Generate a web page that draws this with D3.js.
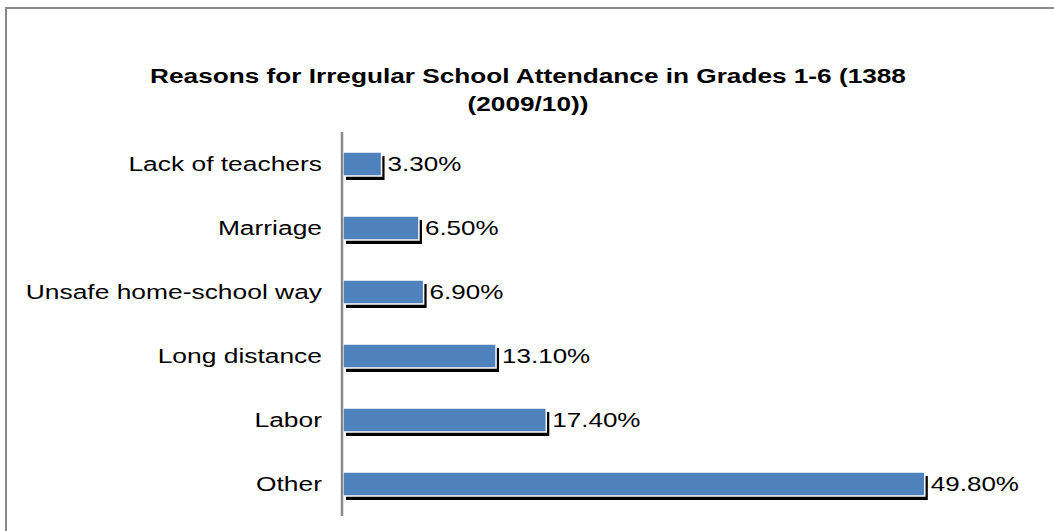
<!DOCTYPE html>
<html><head><meta charset="utf-8">
<script src="https://cdn.jsdelivr.net/npm/d3@7"></script>
<style>body{margin:0;background:#fff}svg{display:block}</style>
</head><body>
<svg id="c" width="1054" height="531"></svg>
<script>
const categories = ["Lack of teachers","Marriage","Unsafe home-school way","Long distance","Labor","Other"];
const values = [3.3, 6.5, 6.9, 13.1, 17.4, 49.8];
const titleLines = ["Reasons for Irregular School Attendance in Grades 1-6 (1388","(2009/10))"];

const FONT = "Liberation Sans, Arial, sans-serif";
const SX = 1.32;
const svg = d3.select("#c");
svg.append("rect").attr("x",6).attr("y",8).attr("width",1100).attr("height",600)
  .attr("fill","#fff").attr("stroke","#888").attr("stroke-width",2);

svg.selectAll("text.title").data(titleLines).join("text").attr("class","title")
  .attr("transform",(d,i)=>`translate(528,${83+i*28}) scale(1.31,1)`).attr("text-anchor","middle")
  .attr("font-family",FONT).attr("font-weight","bold")
  .attr("font-size",20).attr("fill","#000").text(d=>d);

const x = d3.scaleLinear().domain([0,60]).range([343,1044]);
const y = d3.scaleBand().domain(categories).range([132,516]);
const bh = 24;

const g = svg.append("g");
const rows = g.selectAll("g.row").data(categories).join("g").attr("class","row");
rows.append("rect").attr("x",x(0)+3).attr("y",(d)=>y(d)+y.bandwidth()/2-bh/2+4)
  .attr("width",(d,i)=>x(values[i])-x(0)).attr("height",bh).attr("fill","#000");
rows.append("rect").attr("x",x(0)).attr("y",(d)=>y(d)+y.bandwidth()/2-bh/2)
  .attr("width",(d,i)=>x(values[i])-x(0)).attr("height",bh)
  .attr("fill","#4F81BD").attr("stroke","#fff").attr("stroke-width",1.5);
rows.append("text")
  .attr("transform",(d,i)=>`translate(${x(values[i])+6},${y(d)+y.bandwidth()/2+7}) scale(1.3,1)`)
  .attr("font-family",FONT).attr("font-size",20)
  .attr("fill","#000").text((d,i)=>values[i].toFixed(2)+"%");

const ax = svg.append("g").attr("transform",`translate(${x(0)-1},0)`)
  .call(d3.axisLeft(y).tickSize(0).tickPadding(20));
ax.select(".domain").attr("stroke","#888").attr("stroke-width",2.5).attr("d",`M0,${132}V${516}`);
ax.selectAll(".tick text").attr("x",0).attr("transform",`translate(-20,0) scale(${SX},1)`)
  .attr("font-family",FONT).attr("font-size",20).attr("fill","#000").attr("dy","0.35em");
</script>
</body></html>
